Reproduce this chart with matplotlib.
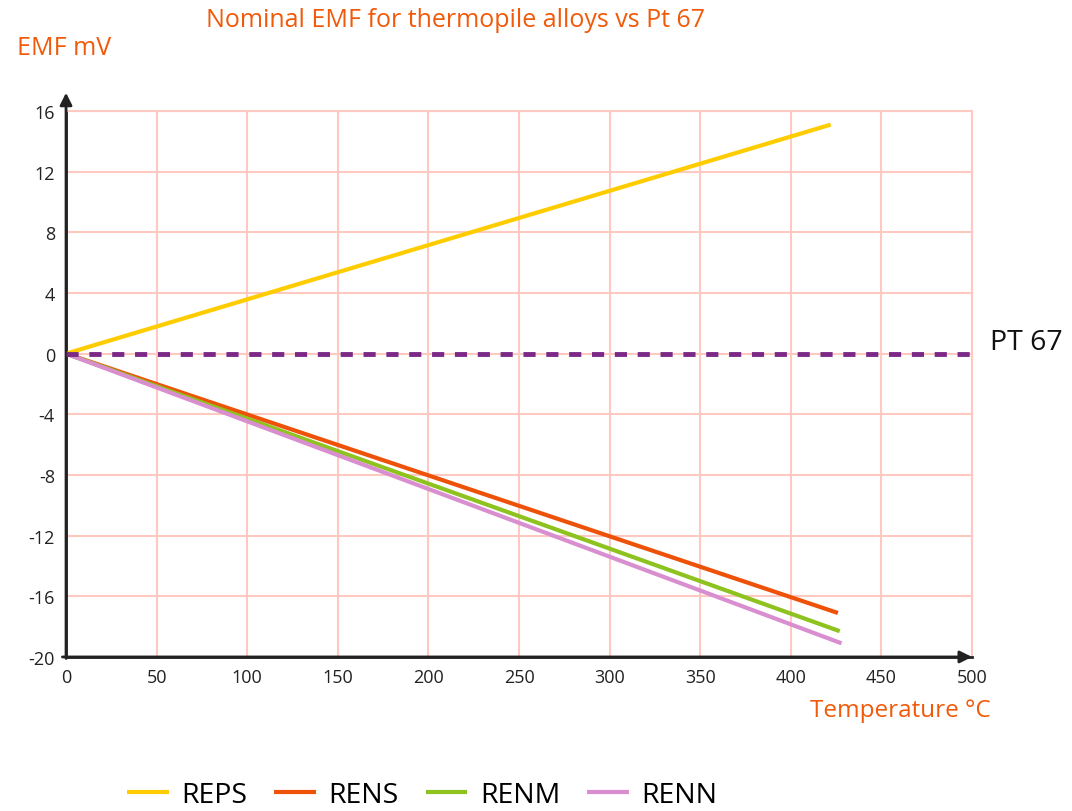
import numpy as np
import matplotlib.pyplot as plt

# datos (temperatura en C, EMF en mV)
temp_reps = [0, 422]
emf_reps = [0, 15.1]
temp_rens = [0, 426]
emf_rens = [0, -17.1]
temp_renm = [0, 427]
emf_renm = [0, -18.3]
temp_renn = [0, 428]
emf_renn = [0, -19.1]
temp_pt = [0, 500]
emf_pt = [0, 0]

nombres = ["REPS", "RENS", "RENM", "RENN"]
colores = ["#FFCC00", "#EE5208", "#8DC21F", "#D98FCF"]
naranja = "#F05A0A"
fuente = "Open Sans"

plt.rcParams['font.family'] = [fuente, 'DejaVu Sans']
plt.rcParams['axes.unicode_minus'] = False

fig = plt.figure(figsize=(10.72, 8.12), dpi=100)
ax = fig.add_axes([0.0616, 0.1897, 0.8451, 0.6724])

series = [(temp_reps, emf_reps), (temp_rens, emf_rens),
          (temp_renm, emf_renm), (temp_renn, emf_renn)]
for (t, e), nom, col in zip(series, nombres, colores):
    ax.plot(t, e, color=col, lw=3, label=nom, solid_capstyle='butt', zorder=3)

ax.plot(temp_pt, emf_pt, color="#7A2A86", lw=3.5, ls=(0, (2.5, 2.2)), zorder=4)

ax.set_xlim(0, 500)
ax.set_ylim(-20, 16)
ax.set_xticks(np.arange(0, 501, 50))
ax.set_yticks(np.arange(-20, 17, 4))
ax.grid(True, color="#FFC8C0", lw=1.5)
ax.tick_params(length=0, labelsize=13, colors="#222222", pad=8)
for s in ['top', 'right']:
    ax.spines[s].set_color("#FFC8C0")
    ax.spines[s].set_linewidth(1.5)
for s in ['left', 'bottom']:
    ax.spines[s].set_color("#222222")
    ax.spines[s].set_linewidth(2)

# flechas de los ejes
ax.annotate("", xy=(0, 17.2), xytext=(0, -20.1), xycoords='data',
            arrowprops=dict(arrowstyle='-|>', color="#222222", lw=2,
                            mutation_scale=18, shrinkA=0, shrinkB=0),
            annotation_clip=False)
ax.annotate("", xy=(500, -20), xytext=(-2, -20), xycoords='data',
            arrowprops=dict(arrowstyle='-|>', color="#222222", lw=2,
                            mutation_scale=18, shrinkA=0, shrinkB=0),
            annotation_clip=False)

ax.text(510, 0.8, "PT 67", fontsize=20.5, color="#111111", va='center', ha='left')

fig.text(0.425, 0.975, "Nominal EMF for thermopile alloys vs Pt 67",
         color=naranja, fontsize=18, ha='center', va='center')
fig.text(0.016, 0.94, "EMF mV", color=naranja, fontsize=18, ha='left', va='center')
fig.text(0.924, 0.124, "Temperature \u00b0C", color=naranja, fontsize=17.5,
         ha='right', va='center')

fig.legend(loc='center', bbox_to_anchor=(0.394, 0.02), ncol=4, frameon=False,
           fontsize=20.5, handlelength=1.45, columnspacing=0.95, handletextpad=0.45)

fig.savefig("out.png", dpi=100)
